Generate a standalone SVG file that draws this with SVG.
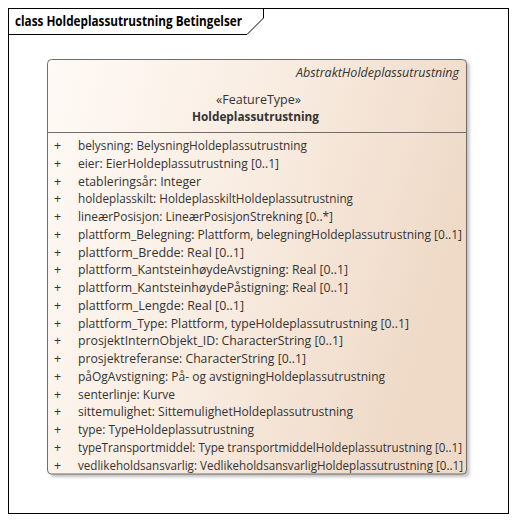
<svg xmlns="http://www.w3.org/2000/svg" width="516" height="523" viewBox="0 0 516 523">
<defs>
<linearGradient id="cls" x1="0" y1="0" x2="1" y2="0.3">
<stop offset="0" stop-color="#fffaf6"/>
<stop offset="0.5" stop-color="#f9ede2"/>
<stop offset="1" stop-color="#efdac8"/>
</linearGradient>
<filter id="sh" x="-5%" y="-5%" width="115%" height="115%">
<feGaussianBlur stdDeviation="1.5"/>
</filter>
</defs>
<style>
.t{font-family:"Open Sans","Noto Sans","Liberation Sans",sans-serif;font-size:12.5px;fill:#333}
.b{font-weight:bold}
.i{font-style:italic}
</style>
<rect x="0" y="0" width="516" height="523" fill="#ffffff"/>
<g id="frame">
<rect x="8.5" y="8.5" width="500" height="505" fill="none" stroke="#000" stroke-width="1"/>
<path d="M8.5,34.5 H247 L263.5,18 V8.5" fill="none" stroke="#000" stroke-width="1"/>
<text class="t b" x="15" y="25.5" style="font-size:13.5px;fill:#000" textLength="227" lengthAdjust="spacingAndGlyphs">class Holdeplassutrustning Betingelser</text>
</g>
<g id="Holdeplassutrustning">
<rect x="50.5" y="62" width="419" height="415" rx="4" fill="#9a9a9a" opacity="0.6" filter="url(#sh)"/>
<rect x="47.5" y="59.5" width="419" height="414.5" rx="4" fill="url(#cls)" stroke="#6e6e6e" stroke-width="1"/>
<line x1="47.5" y1="132.5" x2="466.5" y2="132.5" stroke="#6e6e6e" stroke-width="1"/>
<text class="t i" x="459" y="76.5" text-anchor="end" textLength="163" lengthAdjust="spacingAndGlyphs">AbstraktHoldeplassutrustning</text>
<text class="t" x="258.5" y="103.5" text-anchor="middle" textLength="85" lengthAdjust="spacingAndGlyphs">«FeatureType»</text>
<text class="t b" x="255.5" y="120.5" text-anchor="middle" textLength="127" lengthAdjust="spacingAndGlyphs">Holdeplassutrustning</text>
<g class="t">
<text x="54" y="150">+</text>
<text x="54" y="167.75">+</text>
<text x="54" y="185.5">+</text>
<text x="54" y="203.25">+</text>
<text x="54" y="221">+</text>
<text x="54" y="238.75">+</text>
<text x="54" y="256.5">+</text>
<text x="54" y="274.25">+</text>
<text x="54" y="292">+</text>
<text x="54" y="309.75">+</text>
<text x="54" y="327.5">+</text>
<text x="54" y="345.25">+</text>
<text x="54" y="363">+</text>
<text x="54" y="380.75">+</text>
<text x="54" y="398.5">+</text>
<text x="54" y="416.25">+</text>
<text x="54" y="434">+</text>
<text x="54" y="451.75">+</text>
<text x="54" y="469.5">+</text>
<text x="78" y="150" textLength="229" lengthAdjust="spacingAndGlyphs">belysning: BelysningHoldeplassutrustning</text>
<text x="78" y="167.75" textLength="201" lengthAdjust="spacingAndGlyphs">eier: EierHoldeplassutrustning [0..1]</text>
<text x="78" y="185.5" textLength="123" lengthAdjust="spacingAndGlyphs">etableringsår: Integer</text>
<text x="78" y="203.25" textLength="275" lengthAdjust="spacingAndGlyphs">holdeplasskilt: HoldeplasskiltHoldeplassutrustning</text>
<text x="78" y="221" textLength="255" lengthAdjust="spacingAndGlyphs">lineærPosisjon: LineærPosisjonStrekning [0..*]</text>
<text x="78" y="238.75" textLength="384" lengthAdjust="spacingAndGlyphs">plattform_Belegning: Plattform, belegningHoldeplassutrustning [0..1]</text>
<text x="78" y="256.5" textLength="166" lengthAdjust="spacingAndGlyphs">plattform_Bredde: Real [0..1]</text>
<text x="78" y="274.25" textLength="270" lengthAdjust="spacingAndGlyphs">plattform_KantsteinhøydeAvstigning: Real [0..1]</text>
<text x="78" y="292" textLength="270" lengthAdjust="spacingAndGlyphs">plattform_KantsteinhøydePåstigning: Real [0..1]</text>
<text x="78" y="309.75" textLength="166" lengthAdjust="spacingAndGlyphs">plattform_Lengde: Real [0..1]</text>
<text x="78" y="327.5" textLength="331" lengthAdjust="spacingAndGlyphs">plattform_Type: Plattform, typeHoldeplassutrustning [0..1]</text>
<text x="78" y="345.25" textLength="265" lengthAdjust="spacingAndGlyphs">prosjektInternObjekt_ID: CharacterString [0..1]</text>
<text x="78" y="363" textLength="228" lengthAdjust="spacingAndGlyphs">prosjektreferanse: CharacterString [0..1]</text>
<text x="78" y="380.75" textLength="307" lengthAdjust="spacingAndGlyphs">påOgAvstigning: På- og avstigningHoldeplassutrustning</text>
<text x="78" y="398.5" textLength="97" lengthAdjust="spacingAndGlyphs">senterlinje: Kurve</text>
<text x="78" y="416.25" textLength="275" lengthAdjust="spacingAndGlyphs">sittemulighet: SittemulighetHoldeplassutrustning</text>
<text x="78" y="434" textLength="176" lengthAdjust="spacingAndGlyphs">type: TypeHoldeplassutrustning</text>
<text x="78" y="451.75" textLength="384" lengthAdjust="spacingAndGlyphs">typeTransportmiddel: Type transportmiddelHoldeplassutrustning [0..1]</text>
<text x="78" y="469.5" textLength="385" lengthAdjust="spacingAndGlyphs">vedlikeholdsansvarlig: VedlikeholdsansvarligHoldeplassutrustning [0..1]</text>
</g>
</g>
<g id="connectors"/>
</svg>
